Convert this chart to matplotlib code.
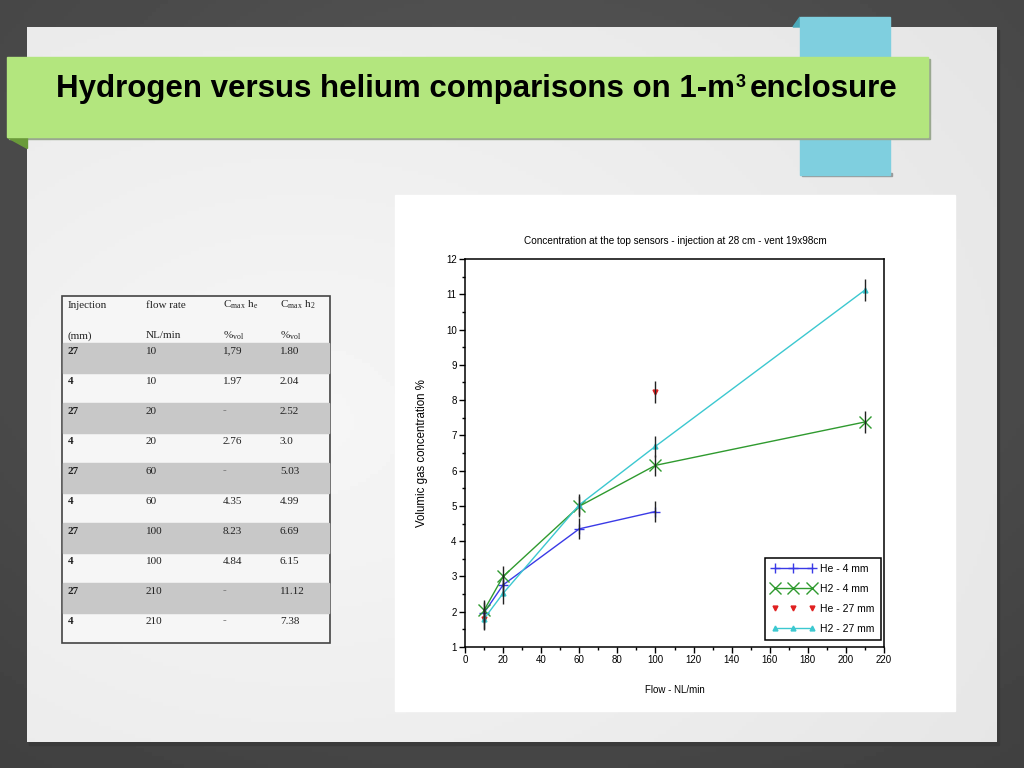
import matplotlib
matplotlib.use("Agg")
import matplotlib.pyplot as plt
import numpy as np
from matplotlib.patches import Rectangle, Polygon
from matplotlib.ticker import MultipleLocator

# table data (as on the slide)
injection = ["27", "4", "27", "4", "27", "4", "27", "4", "27", "4"]
flow = ["10", "10", "20", "20", "60", "60", "100", "100", "210", "210"]
c_he = ["1,79", "1.97", "-", "2.76", "-", "4.35", "8.23", "4.84", "-", "-"]
c_h2 = ["1.80", "2.04", "2.52", "3.0", "5.03", "4.99", "6.69", "6.15", "11.12", "7.38"]
err = 0.3

title_parts = ["Hydrogen versus helium comparisons on 1-m", "3", "enclosure"]
chart_title = "Concentration at the top sensors - injection at 28 cm - vent 19x98cm"


def series(col, inj):
    xs, ys = [], []
    for i, f, v in zip(injection, flow, col):
        if i == inj and v != "-":
            xs.append(float(f))
            ys.append(float(v.replace(",", ".")))
    return np.array(xs), np.array(ys)


W, H = 1024, 768
fig = plt.figure(figsize=(W / 100, H / 100), dpi=100)
rend = fig.canvas.get_renderer()

# background in pixel coords
bg = fig.add_axes([0, 0, 1, 1])
bg.set_xlim(0, W)
bg.set_ylim(H, 0)
bg.axis("off")

yy, xx = np.mgrid[0:H:4, 0:W:4]
r = np.sqrt(((xx - W / 2) / W) ** 2 + ((yy - H / 3) / H) ** 2)
bg.imshow(0.35 - 0.12 * r, cmap="gray", vmin=0, vmax=1, extent=(0, W, H, 0), aspect="auto", zorder=0)

# slide panel
py, px = np.mgrid[27:742:4, 27:997:4]
pr = np.sqrt(((px - 300) / W) ** 2 + ((py - 420) / H) ** 2)
bg.add_patch(Rectangle((29, 30), 970, 715, color="#3a3a3a", zorder=1))
bg.imshow(0.965 - 0.08 * pr, cmap="gray", vmin=0, vmax=1, extent=(27, 997, 742, 27), aspect="auto", zorder=2)

# blue tab + green banner
bg.add_patch(Polygon([[793, 27], [800, 17], [800, 27]], color="#4aa8b8", zorder=3))
bg.add_patch(Rectangle((800, 17), 90, 158, color="#7fcfdf", zorder=3))
bg.add_patch(Rectangle((802, 173), 90, 3, color="#9a9a9a", zorder=2.9))
bg.add_patch(Polygon([[7, 137], [27, 137], [27, 148]], color="#6a9a3a", zorder=4))
bg.add_patch(Rectangle((9, 59), 921, 80, color="#9aa890", zorder=3.9))
bg.add_patch(Rectangle((7, 57), 921, 80, color="#b3e67e", zorder=4))

# title with superscript, laid out piece by piece
tkw = dict(fontweight="bold", family="Liberation Sans", va="baseline", zorder=5)
t1 = bg.text(0, 97, title_parts[0], fontsize=22.5, **tkw)
t2 = bg.text(0, 87, title_parts[1], fontsize=13, **tkw)
t3 = bg.text(0, 97, title_parts[2], fontsize=22.5, **tkw)
w1 = t1.get_window_extent(rend).width
w2 = t2.get_window_extent(rend).width
w3 = t3.get_window_extent(rend).width
gap = 5
x0 = 477 - (w1 + w2 + gap + w3) / 2
t1.set_x(x0)
t2.set_x(x0 + w1 + 1)
t3.set_x(x0 + w1 + w2 + gap)

# table
tx = [68, 146, 223, 280]
bg.add_patch(Rectangle((62, 296), 268, 347, facecolor="#f6f6f6", edgecolor="#444444", lw=1.2, zorder=3))
for k in range(len(injection)):
    top = 343 + 30 * k
    if k % 2 == 0:
        bg.add_patch(Rectangle((63, top), 266, 30, color="#c8c8c8", zorder=3.5))
    vals = [injection[k], flow[k], c_he[k], c_h2[k]]
    for j, v in enumerate(vals):
        bg.text(tx[j], top + 8, v, fontsize=8, family="Liberation Serif",
                fontweight="bold" if j == 0 else "normal",
                color="#777777" if v == "-" else "#222222",
                ha="left", va="center", zorder=4)
hdr1 = ["Injection", "flow rate", "$\\mathregular{C_{max}\\ h_e}$", "$\\mathregular{C_{max}\\ h_2}$"]
hdr2 = ["(mm)", "NL/min", "$\\mathregular{\\%_{vol}}$", "$\\mathregular{\\%_{vol}}$"]
for j in range(4):
    bg.text(tx[j], 305, hdr1[j], fontsize=8, family="Liberation Serif", color="#222222", va="center", zorder=4)
    bg.text(tx[j], 336, hdr2[j], fontsize=8, family="Liberation Serif", color="#222222", va="center", zorder=4)

# chart white area
bg.add_patch(Rectangle((395, 195), 560, 516, color="white", zorder=3))
bg.text(675, 241, chart_title, fontsize=7.2, family="Liberation Sans", ha="center", va="center", zorder=4)

ax = fig.add_axes([465 / W, 1 - 647 / H, (884 - 465) / W, (647 - 259) / H])
ax.set_zorder(5)
ax.set_xlim(0, 220)
ax.set_ylim(1, 12)
ax.xaxis.set_major_locator(MultipleLocator(20))
ax.xaxis.set_minor_locator(MultipleLocator(10))
ax.yaxis.set_major_locator(MultipleLocator(1))
ax.yaxis.set_minor_locator(MultipleLocator(0.5))
ax.tick_params(which="major", length=4, width=1, labelsize=7, pad=2)
ax.tick_params(which="minor", length=2.5, width=1)
for s in ax.spines.values():
    s.set_linewidth(1.1)
for lab in ax.get_xticklabels() + ax.get_yticklabels():
    lab.set_family("Liberation Sans")
ax.set_xlabel("Flow - NL/min", fontsize=7, family="Liberation Sans", labelpad=14)
ax.set_ylabel("Volumic gas concentration %", fontsize=8.3, family="Liberation Sans", labelpad=13)

x1, y1 = series(c_he, "4")
x2, y2 = series(c_h2, "4")
x3, y3 = series(c_he, "27")
x4, y4 = series(c_h2, "27")

ax.plot(x1, y1, color="#3a3ae6", lw=1, marker="+", ms=7, mew=1, label="He - 4 mm")
ax.plot(x2, y2, color="#2f9a2f", lw=1, marker="x", ms=8.5, mew=1, label="H2 - 4 mm")
ax.plot(x3, y3, color="#e02020", ls="none", marker="v", ms=3.5, label="He - 27 mm")
ax.plot(x4, y4, color="#3cc8d0", lw=1, marker="^", ms=3.5, label="H2 - 27 mm")
for xs, ys in [(x1, y1), (x2, y2), (x3, y3), (x4, y4)]:
    ax.errorbar(xs, ys, yerr=err, fmt="none", ecolor="#222222", elinewidth=1, capsize=0)

leg = ax.legend(loc="lower right", bbox_to_anchor=(0.993, 0.018), borderaxespad=0, numpoints=3,
                handlelength=4.2, handletextpad=0.5, labelspacing=0.95, borderpad=0.6,
                fancybox=False, edgecolor="black",
                framealpha=1, prop={"family": "Liberation Sans", "size": 7.5})
leg.get_frame().set_linewidth(1.1)

fig.savefig("out.png", dpi=100)
